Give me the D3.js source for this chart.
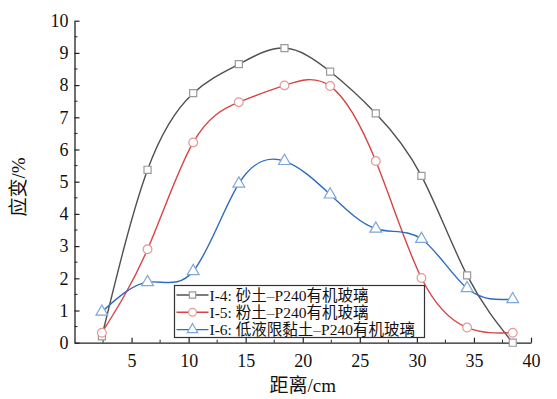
<!DOCTYPE html>
<html>
<head>
<meta charset="utf-8">
<script src="https://cdn.jsdelivr.net/npm/d3@7"></script>
<style>
  body { margin: 0; background: #fff; }
  svg text { font-family: "Liberation Serif", "Noto Sans CJK SC", serif; fill: #111; }
</style>
</head>
<body>
<div id="chart"></div>
<script>
const distances = [2.4, 6.4, 10.4, 14.4, 18.4, 22.4, 26.4, 30.4, 34.4, 38.4];
const sandStrain = [0.2, 5.37, 7.75, 8.65, 9.15, 8.42, 7.12, 5.18, 2.09, 0.0];
const siltStrain = [0.31, 2.9, 6.22, 7.47, 7.99, 7.97, 5.64, 2.01, 0.47, 0.31];
const clayStrain = [0.96, 1.88, 2.22, 4.94, 5.64, 4.6, 3.54, 3.22, 1.69, 1.35];
const seriesNames = ["I-4: 砂土–P240有机玻璃", "I-5: 粉土–P240有机玻璃", "I-6: 低液限黏土–P240有机玻璃"];
const xTicks = [5, 10, 15, 20, 25, 30, 35, 40];
const yTicks = [0, 1, 2, 3, 4, 5, 6, 7, 8, 9, 10];

const W = 557, H = 399;
const margin = {top: 20.7, right: 26, bottom: 56.3, left: 74.5};
const width = W - margin.left - margin.right,
  height = H - margin.top - margin.bottom;

const svg = d3.select("#chart").append("svg")
  .attr("width", W).attr("height", H)
  .append("g")
  .attr("transform", "translate(" + margin.left + "," + margin.top + ")");

const x = d3.scaleLinear().domain([0, 40]).range([0, width]);
const y = d3.scaleLinear().domain([0, 10]).range([height, 0]);

// minor ticks
svg.append("g").selectAll("line")
  .data(d3.range(2.5, 40, 5))
  .enter().append("line")
  .attr("x1", d => x(d)).attr("x2", d => x(d))
  .attr("y1", height).attr("y2", height - 3)
  .attr("stroke", "#222").attr("stroke-width", 1);
svg.append("g").selectAll("line")
  .data(d3.range(0.5, 10, 1))
  .enter().append("line")
  .attr("y1", d => y(d)).attr("y2", d => y(d))
  .attr("x1", 0).attr("x2", 3)
  .attr("stroke", "#222").attr("stroke-width", 1);

const xAxis = svg.append("g")
  .attr("transform", "translate(0," + height + ")")
  .call(d3.axisBottom(x).tickValues(xTicks).tickSizeInner(-5).tickSizeOuter(0).tickPadding(12));
const yAxis = svg.append("g")
  .call(d3.axisLeft(y).tickValues(yTicks).tickSizeInner(-5).tickSizeOuter(0).tickPadding(6));

[xAxis, yAxis].forEach(a => {
  a.select(".domain").attr("stroke", "#222").attr("stroke-width", 1.3);
  a.selectAll(".tick line").attr("stroke", "#222").attr("stroke-width", 1.2);
  a.selectAll(".tick text").style("font-size", "18px").attr("fill", "#111");
});

svg.append("text")
  .attr("x", width / 2).attr("y", height + 49)
  .attr("text-anchor", "middle")
  .style("font-size", "19px")
  .text("距离/cm");

svg.append("text")
  .attr("transform", "rotate(-90)")
  .attr("x", -(187 - margin.top)).attr("y", -50)
  .attr("text-anchor", "middle")
  .style("font-size", "19px")
  .text("应变/%");

const series = [
  {name: seriesNames[0], values: sandStrain, line: "#505050", mark: "#9a9a9a", shape: d3.symbolSquare, size: 50},
  {name: seriesNames[1], values: siltStrain, line: "#d64545", mark: "#e39a9a", shape: d3.symbolCircle, size: 60},
  {name: seriesNames[2], values: clayStrain, line: "#2d6cc0", mark: "#7fa6d8", shape: d3.symbolTriangle, size: 60}
];

const line = d3.line()
  .x(d => x(d[0]))
  .y(d => y(d[1]))
  .curve(d3.curveNatural);

series.forEach(s => {
  const pts = distances.map((d, i) => [d, s.values[i]]);
  svg.append("path")
    .datum(pts)
    .attr("fill", "none")
    .attr("stroke", s.line)
    .attr("stroke-width", 1.4)
    .attr("d", line);
});

series.forEach(s => {
  const pts = distances.map((d, i) => [d, s.values[i]]);
  svg.selectAll(null)
    .data(pts)
    .enter().append("path")
    .attr("transform", d => "translate(" + x(d[0]) + "," + y(d[1]) + ")")
    .attr("d", d3.symbol().type(s.shape).size(s.size))
    .attr("fill", "#fff")
    .attr("stroke", s.mark)
    .attr("stroke-width", 1.2);
});

// legend
const lg = svg.append("g")
  .attr("transform", "translate(" + (174.5 - margin.left) + "," + (285.5 - margin.top) + ")");
lg.append("rect")
  .attr("width", 250).attr("height", 52)
  .attr("fill", "#fff")
  .attr("stroke", "#333").attr("stroke-width", 1.2);

const rows = lg.selectAll(".legend")
  .data(series)
  .enter().append("g")
  .attr("class", "legend")
  .attr("transform", (d, i) => "translate(0," + (9.5 + i * 17.3) + ")");

rows.append("line")
  .attr("x1", 2).attr("x2", 34)
  .attr("stroke", d => d.line).attr("stroke-width", 1.4);
rows.append("path")
  .attr("transform", "translate(18,0)")
  .attr("d", d => d3.symbol().type(d.shape).size(d.size * 0.8)())
  .attr("fill", "#fff")
  .attr("stroke", d => d.mark).attr("stroke-width", 1.2);
rows.append("text")
  .attr("x", 35).attr("y", 5.5)
  .style("font-size", "15.5px")
  .text(d => d.name);
</script>
</body>
</html>
